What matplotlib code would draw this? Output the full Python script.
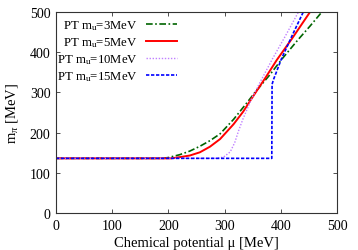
import matplotlib
matplotlib.use("Agg")
import matplotlib.pyplot as plt

plt.rcParams['font.family'] = ['Liberation Serif', 'DejaVu Serif']
plt.rcParams['mathtext.fontset'] = 'custom'
plt.rcParams['mathtext.rm'] = 'Liberation Serif'
plt.rcParams['mathtext.it'] = 'Liberation Serif:italic'
plt.rcParams['font.size'] = 10

# data (mu [MeV], m_pi [MeV])
mu_3 = [0, 190, 200, 220, 238, 256, 274, 292, 316, 339, 354, 380, 402, 430, 452, 473]
m_3 = [136, 136, 138, 145, 154, 166, 180, 197, 233, 273, 300, 343, 383, 430, 465, 500]

mu_5 = [0, 205, 220, 238, 256, 274, 292, 316, 333, 345, 360, 372, 393, 420, 452]
m_5 = [136, 136, 139, 143, 151, 165, 184, 221, 252, 278, 310, 335, 381, 434, 500]

mu_10 = [0, 285, 298, 310, 318, 325, 333, 340, 348, 363, 385, 408, 431]
m_10 = [136, 136, 139, 152, 175, 205, 235, 258, 284, 325, 383, 440, 499]

mu_15 = [0, 384, 384.5, 387, 392, 401, 420, 440]
m_15 = [136, 136, 320, 332, 350, 383, 441, 500]

labels = [r'PT m$_\mathrm{u}$=3MeV', r'PT m$_\mathrm{u}$=5MeV',
          r'PT m$_\mathrm{u}$=10MeV', r'PT m$_\mathrm{u}$=15MeV']

fig = plt.figure(figsize=(3.58, 2.51), dpi=100)
ax = fig.add_axes([0.1564, 0.1474, 0.7849, 0.8006])

ax.plot(mu_3, m_3, color='#006400', lw=1.2, ls=(0, (4, 1.5, 1, 1.5)), label=labels[0])
ax.plot(mu_5, m_5, color='#ff0000', lw=1.4, ls='-', label=labels[1])
ax.plot(mu_10, m_10, color='#c080ff', lw=1.0, ls=(0, (1, 1.2)), label=labels[2])
ax.plot(mu_15, m_15, color='#0000ff', lw=1.2, ls=(0, (2, 1)), label=labels[3])

ax.set_xlim(0, 500)
ax.set_ylim(0, 500)
ax.set_xticks([0, 100, 200, 300, 400, 500])
ax.set_yticks([0, 100, 200, 300, 400, 500])
ax.tick_params(direction='in', top=True, right=True, length=3, width=0.6,
               color='#333333', labelsize=10, pad=4)
for s in ax.spines.values():
    s.set_color('#333333')
    s.set_linewidth(0.8)

ax.set_xlabel('Chemical potential μ [MeV]', labelpad=3, fontsize=10.5)
ax.set_ylabel(r'm$_{\pi}$ [MeV]', labelpad=7, fontsize=10.5)

leg = ax.legend(loc='upper right', frameon=False, markerfirst=False,
                handlelength=2.4, handletextpad=0.7, labelspacing=0.25,
                borderaxespad=0.0, borderpad=0.0, fontsize=9.2,
                bbox_to_anchor=(177 / 358, 1 - 19.0 / 251),
                bbox_transform=fig.transFigure)
for col in leg._legend_handle_box.get_children():
    col.align = 'right'

fig.savefig('out.png', dpi=100)
